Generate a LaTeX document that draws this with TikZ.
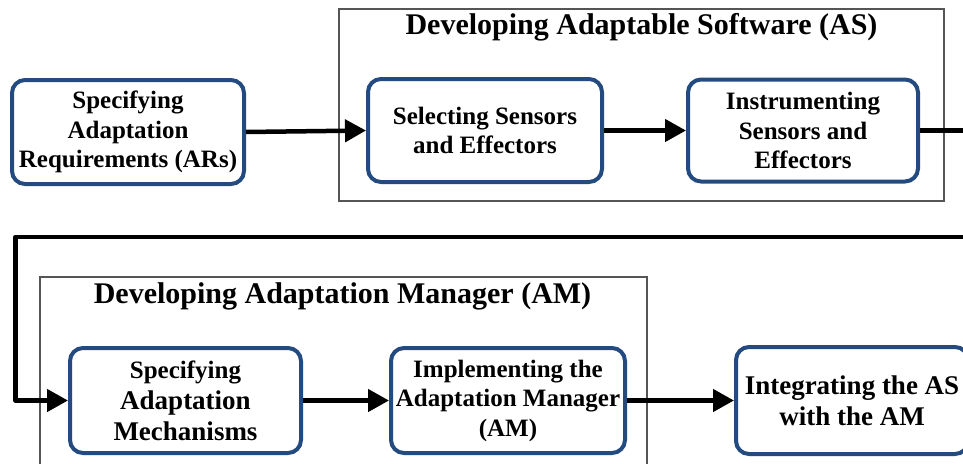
\documentclass[tikz,border=0pt]{standalone}
\usepackage{fontspec}
\setmainfont{Liberation Serif}
\usetikzlibrary{arrows.meta}
\definecolor{boxblue}{RGB}{36,75,128}
\definecolor{framegray}{RGB}{85,85,85}
\begin{document}
\begin{tikzpicture}[x=1pt,y=-1pt,
  stepbox/.style={draw=boxblue, line width=4pt, rounded corners=13pt, fill=white,
    align=center, inner sep=0pt, font=\fontsize{25}{29.5}\selectfont\bfseries},
  frame/.style={draw=framegray, line width=1.2pt},
  conn/.style={line width=4.5pt, line join=round, draw=black},
  arr/.style={conn, -{Triangle[length=21pt,width=22pt]}},
  title/.style={font=\fontsize{30}{34}\selectfont\bfseries, anchor=base, inner sep=0pt}]
\useasboundingbox (0,0) rectangle (963,463);
\clip (0,0) rectangle (963,463);
\fill[white] (0,0) rectangle (963,463);

% frames
\draw[frame] (339,9) rectangle (944,201);
\draw[frame] (40,277) rectangle (647,475);
\node[title] (astitle) at (641.5,34) {Developing Adaptable Software (AS)};
\node[title] (amtitle) at (342.5,303) {Developing Adaptation Manager (AM)};

% boxes
\node[stepbox, minimum width=232pt, minimum height=104pt] (req) at (128,132)
  {Specifying\\Adaptation\\Requirements (ARs)};
\node[stepbox, minimum width=234pt, minimum height=103pt] (sel) at (485,130.5)
  {Selecting Sensors\\and Effectors};
\node[stepbox, minimum width=230pt, minimum height=102pt] (ins) at (803,130.5)
  {Instrumenting\\Sensors and\\Effectors};
\node[stepbox, minimum width=231pt, minimum height=105pt,
  font=\fontsize{27}{31}\selectfont\bfseries] (mech) at (185.5,400.5)
  {{\fontsize{25}{31}\selectfont Specifying}\\Adaptation\\Mechanisms};
\node[stepbox, minimum width=234pt, minimum height=105pt] (impl) at (508,400.5)
  {Implementing the\\Adaptation Manager\\(AM)};
\node[stepbox, minimum width=232pt, minimum height=107pt,
  font=\fontsize{27}{31}\selectfont\bfseries] (integ) at (852,400.5)
  {Integrating the AS\\with the AM};

% connectors
\coordinate (outR) at (975,130.5);
\coordinate (backR) at (975,237);
\coordinate (backL) at (15.5,237);
\draw[arr] (req.east) -- (sel.west);
\draw[arr] (sel.east) -- (ins.west);
\draw[conn] (ins.east) -- (outR);
\draw[arr] (backR) -- (backL) |- (mech.west);
\draw[arr] (mech.east) -- (impl.west);
\draw[arr] (impl.east) -- (integ.west);
\end{tikzpicture}
\end{document}
